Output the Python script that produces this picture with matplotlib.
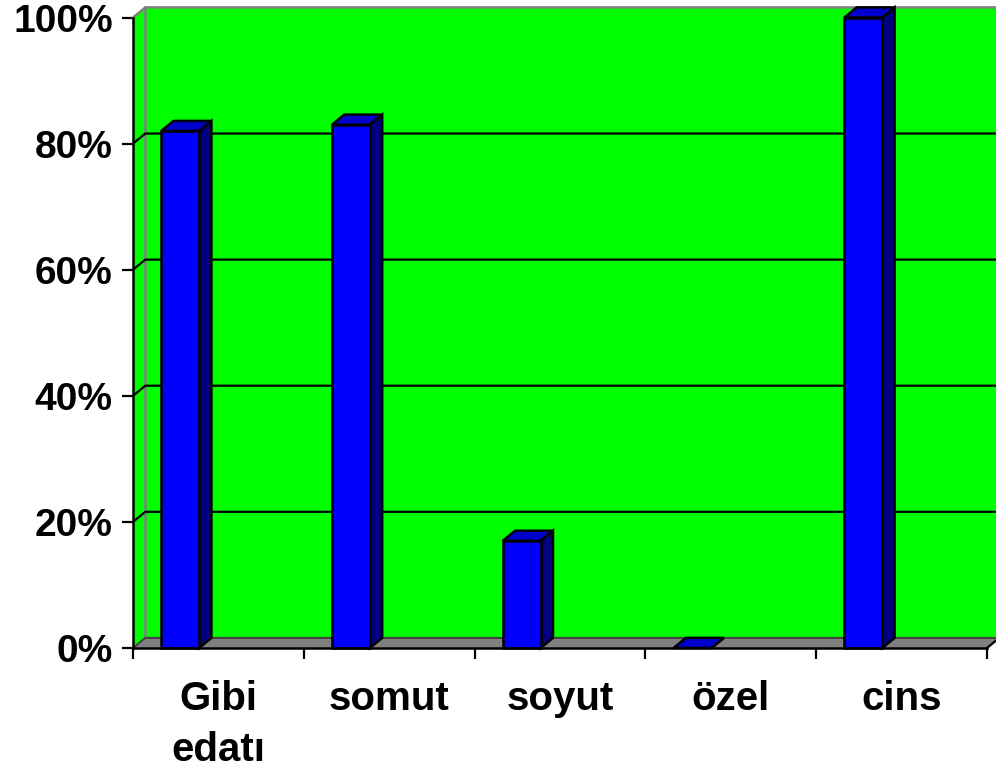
import numpy as np
import matplotlib
matplotlib.use('Agg')
import matplotlib.pyplot as plt

plt.rcParams['font.family'] = ['Liberation Sans', 'DejaVu Sans']
plt.rcParams['font.weight'] = 'bold'

categories = ['Gibi\nedatı', 'somut', 'soyut', 'özel', 'cins']
values = [82, 83, 17, 0, 100]
yticks = [0, 20, 40, 60, 80, 100]

# 3d look: depth offset of the back plane, in data units
DX = 0.072
DY = 1.6
bar_left = 0.165
bar_w = 0.222

fig = plt.figure(figsize=(9.96, 7.73), dpi=100)
ax = fig.add_axes([133/996, 125/773, 854/996, 630.5/773])
ax.set_xlim(0, len(categories))
ax.set_ylim(0, 100)
ax.patch.set_visible(False)

n = len(categories)
# back wall
ax.fill([DX, n+DX, n+DX, DX], [DY, DY, 100+DY, 100+DY], color='#00ff00', lw=0, clip_on=False, zorder=1)
# left wall
ax.fill([0, DX, DX, 0], [0, DY, 100+DY, 100], color='#00ff00', lw=0, clip_on=False, zorder=1)
ax.plot([0, DX, n+DX], [100, 100+DY, 100+DY], color='#808080', lw=1.8, clip_on=False, zorder=2)
ax.plot([DX, DX], [DY, 100+DY], color='#808080', lw=1.8, clip_on=False, zorder=2)
# floor
ax.fill([0, n, n+DX, DX], [0, 0, DY, DY], facecolor='#808080', edgecolor='none', clip_on=False, zorder=2)
ax.plot([0, DX, n+DX], [0, DY, DY], color='#404040', lw=1.4, clip_on=False, zorder=2)
ax.plot([n, n+DX], [0, DY], color='black', lw=1.6, clip_on=False, zorder=2)

# gridlines on back and left wall
for t in yticks[1:-1]:
    ax.plot([0, DX, n+DX], [t, t+DY, t+DY], color='black', lw=1.6, clip_on=False, zorder=2)

# bars
for i, v in enumerate(values):
    x0 = i + bar_left
    x1 = x0 + bar_w
    ax.fill([x1, x1+DX, x1+DX, x1], [0, DY, v+DY, v], facecolor='#000080', edgecolor='black', lw=1.8, clip_on=False, zorder=3)
    ax.fill([x0, x0+DX, x1+DX, x1], [v, v+DY, v+DY, v], facecolor='#0000cc', edgecolor='black', lw=1.8, clip_on=False, zorder=3)
    if v > 0:
        ax.fill([x0, x1, x1, x0], [0, 0, v, v], facecolor='#0000ff', edgecolor='black', lw=1.8, clip_on=False, zorder=3)

for side in ['top', 'right']:
    ax.spines[side].set_visible(False)
for side in ['left', 'bottom']:
    ax.spines[side].set_linewidth(1.8)
    ax.spines[side].set_zorder(5)

ax.set_yticks(yticks)
ax.set_yticklabels(['%d%%' % t for t in yticks])
ax.set_xticks(np.arange(n+1))
ax.set_xticklabels([])
ax.set_xticks(np.arange(n) + 0.5, minor=True)
ax.set_xticklabels(categories, minor=True, linespacing=1.45)
ax.tick_params(axis='both', which='major', direction='out', length=8, width=1.6, labelsize=28, pad=6.5)
ax.tick_params(axis='x', which='minor', length=0, labelsize=29, pad=23)

plt.savefig('out.png', dpi=100)
plt.close()
